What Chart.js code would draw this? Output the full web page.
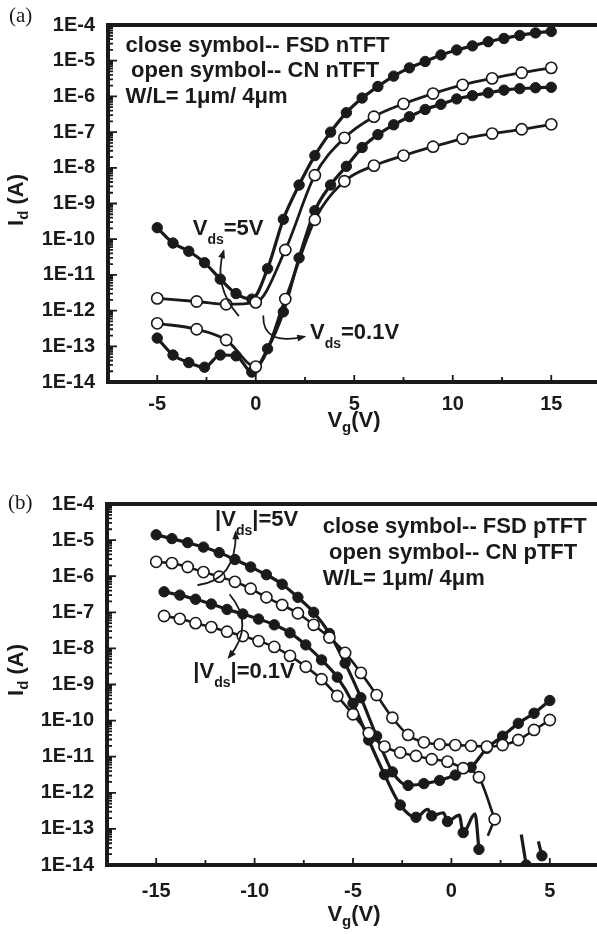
<!DOCTYPE html>
<html>
<head>
<meta charset="utf-8">
<title>FSD / CN TFT transfer curves</title>
<script src="https://cdn.jsdelivr.net/npm/chart.js@4.4.1/dist/chart.umd.min.js"></script>
<style>
  html, body { margin: 0; padding: 0; background: #fff; }
  body { width: 597px; height: 934px; position: relative; overflow: hidden; }
  .panel { position: absolute; left: 0; width: 597px; height: 467px; overflow: hidden; }
  .panel canvas { display: block; }
</style>
</head>
<body>
<div class="panel" style="top:0"><canvas id="chartA" width="612" height="467"></canvas></div>
<div class="panel" style="top:467px"><canvas id="chartB" width="612" height="467"></canvas></div>
<script>
const INK = "#1a1a1a";
const SANS = '"Liberation Sans", Arial, Helvetica, sans-serif';

// shared log axis
const yTicks = [1e-14, 1e-13, 1e-12, 1e-11, 1e-10, 1e-9, 1e-8, 1e-7, 1e-6, 1e-5, 1e-4];
const yTickLabels = ["1E-14", "1E-13", "1E-12", "1E-11", "1E-10", "1E-9", "1E-8", "1E-7", "1E-6", "1E-5", "1E-4"];

// (a) nTFT
const xTicksA = [-5, 0, 5, 10, 15];
const xMinorA = [-2.5, 2.5, 7.5, 12.5];
const vgA = [-5, -4.2, -3.4, -2.6, -1.8, -1.0, -0.2, 0.6, 1.4, 2.2, 3.0, 3.8, 4.6, 5.4, 6.2, 7.0, 7.8, 8.6, 9.4, 10.2, 11.0, 11.8, 12.6, 13.4, 14.2, 15.0];
const idA_fsd5 = [2.1e-10, 7.8e-11, 4.6e-11, 2.2e-11, 7.6e-12, 3.0e-12, 2.1e-12, 1.5e-11, 3.6e-10, 3.3e-9, 2.2e-8, 1.0e-7, 3.5e-7, 9.0e-7, 1.9e-6, 3.7e-6, 6.3e-6, 9.5e-6, 1.45e-5, 2.0e-5, 2.6e-5, 3.4e-5, 4.2e-5, 5.1e-5, 6.0e-5, 6.6e-5];
const idA_fsd01 = [1.7e-13, 5.7e-14, 3.5e-14, 2.6e-14, 5.7e-14, 5.4e-14, 1.9e-14, 8.5e-14, 9.2e-13, 3.0e-11, 6.3e-10, 3.3e-9, 1.1e-8, 3.7e-8, 8.5e-8, 1.6e-7, 2.7e-7, 4.3e-7, 6.0e-7, 8.5e-7, 1.05e-6, 1.26e-6, 1.5e-6, 1.65e-6, 1.75e-6, 1.8e-6];
const vgA_cn = [-5, -3, -1.5, 0, 1.5, 3, 4.5, 6, 7.5, 9, 10.5, 12, 13.5, 15];
const idA_cn5 = [2.2e-12, 1.8e-12, 1.5e-12, 1.7e-12, 5.0e-11, 6.2e-9, 6.9e-8, 2.7e-7, 6.2e-7, 1.2e-6, 2.1e-6, 3.2e-6, 4.6e-6, 6.3e-6];
const idA_cn01 = [4.4e-13, 3.0e-13, 1.5e-13, 2.7e-14, 2.1e-12, 3.5e-10, 4.2e-9, 1.15e-8, 2.2e-8, 3.9e-8, 6.5e-8, 9.1e-8, 1.2e-7, 1.65e-7];

// (b) pTFT
const xTicksB = [-15, -10, -5, 0, 5];
const xMinorB = [-12.5, -7.5, -2.5, 2.5];
const vgB = [-15, -14.2, -13.4, -12.6, -11.8, -11.0, -10.2, -9.4, -8.6, -7.8, -7.0, -6.2, -5.4, -4.6, -3.8, -3.0, -2.2, -1.4, -0.6, 0.2, 1.0, 1.8, 2.6, 3.4, 4.2, 5.0];
const idB_fsd5 = [1.4e-5, 1.1e-5, 8.5e-6, 6.4e-6, 4.5e-6, 2.9e-6, 1.8e-6, 1.1e-6, 6.0e-7, 2.6e-7, 1.0e-7, 2.6e-8, 3.9e-9, 4.3e-10, 3.7e-11, 3.8e-12, 1.6e-12, 1.8e-12, 2.2e-12, 3.1e-12, 5.1e-12, 1.7e-11, 3.7e-11, 8.4e-11, 1.6e-10, 3.6e-10];
const idB_cn5 = [2.5e-6, 2.3e-6, 1.8e-6, 1.3e-6, 9.7e-7, 7.0e-7, 4.5e-7, 2.6e-7, 1.6e-7, 9.4e-8, 4.5e-8, 2.0e-8, 7.5e-9, 2.1e-9, 5.1e-10, 1.2e-10, 4.0e-11, 2.5e-11, 2.2e-11, 2.1e-11, 2.0e-11, 1.9e-11, 2.1e-11, 2.9e-11, 5.5e-11, 1.04e-10];
const vgB2 = [-14.6, -13.8, -13.0, -12.2, -11.4, -10.6, -9.8, -9.0, -8.2, -7.4, -6.6, -5.8, -5.0, -4.2, -3.4, -2.6, -1.8, -1.0, -0.2, 0.6, 1.4, 2.2, 3.0, 3.8, 4.6];
const idB_fsd01 = [3.7e-7, 3.0e-7, 2.3e-7, 1.7e-7, 1.2e-7, 9.0e-8, 6.5e-8, 4.5e-8, 2.7e-8, 1.25e-8, 4.8e-9, 1.6e-9, 3.0e-10, 2.9e-11, 3.2e-12, 4.6e-13, 2.1e-13, 2.3e-13, 1.6e-13, 7.9e-14, 2.7e-14, null, null, 1.0e-14, 1.8e-14];
const idB_cn01 = [7.9e-8, 6.6e-8, 5.0e-8, 3.9e-8, 2.9e-8, 2.2e-8, 1.6e-8, 1.1e-8, 6.2e-9, 3.1e-9, 1.4e-9, 4.8e-10, 1.5e-10, 4.5e-11, 1.9e-11, 1.3e-11, 1.05e-11, 8.5e-12, 7.3e-12, 4.8e-12, 2.7e-12, 1.85e-13, null, null, null];
// unmarked readings on the noisy FSD 0.1V curve, and the short CN tail
const vgB_fsd01Extra = [-1.2, -0.4, 0.4, 1.2, 3.55, 4.1, 4.42];
const idB_fsd01Extra = [3.5e-13, 2.8e-13, 2.4e-13, 2.6e-13, 7.0e-14, null, 4.5e-14];
const vgB_cn01Tail = [2.2, 1.85];
const idB_cn01Tail = [1.85e-13, 6.5e-14];

function xy(xs, ys) {
  return xs.map((x, i) => ({ x: x, y: ys[i] }));
}
function merged(xs1, ys1, xs2, ys2) {
  return xy(xs1, ys1).concat(xy(xs2, ys2)).sort((a, b) => a.x - b.x);
}

function closedSet(data, w) {
  return {
    data: data, borderColor: INK, borderWidth: w, pointRadius: 5.2,
    pointBackgroundColor: INK, pointBorderColor: INK, pointBorderWidth: 1,
    cubicInterpolationMode: "monotone", order: 1
  };
}
function openSet(data, w) {
  return {
    data: data, borderColor: INK, borderWidth: w, pointRadius: 5.6,
    pointBackgroundColor: "#fff", pointBorderColor: INK, pointBorderWidth: 1.6,
    cubicInterpolationMode: "monotone", order: 0
  };
}
function lineOnly(data, w, order) {
  return { data: data, borderColor: INK, borderWidth: w, pointRadius: 0, cubicInterpolationMode: "monotone", order: order };
}
function marksOnly(data) {
  return {
    data: data, showLine: false, pointRadius: 5.2, pointBackgroundColor: INK,
    pointBorderColor: INK, pointBorderWidth: 1, order: 1
  };
}

function richWidth(ctx, parts, size, subSize) {
  let w = 0;
  parts.forEach(p => {
    ctx.font = "bold " + (p[1] ? subSize : size) + "px " + SANS;
    w += ctx.measureText(p[0]).width;
  });
  return w;
}
function richText(ctx, parts, px, py, size, subSize, drop) {
  let cx = px;
  parts.forEach(p => {
    ctx.font = "bold " + (p[1] ? subSize : size) + "px " + SANS;
    ctx.fillText(p[0], cx, p[1] ? py + drop : py);
    cx += ctx.measureText(p[0]).width;
  });
}

function arrow(ctx, s, c, e) {
  ctx.lineWidth = 1.8;
  ctx.beginPath();
  ctx.moveTo(s[0], s[1]);
  ctx.quadraticCurveTo(c[0], c[1], e[0], e[1]);
  ctx.stroke();
  const dx = e[0] - c[0], dy = e[1] - c[1];
  const len = Math.hypot(dx, dy) || 1;
  const ux = dx / len, uy = dy / len;
  ctx.beginPath();
  ctx.moveTo(e[0] + ux * 3, e[1] + uy * 3);
  ctx.lineTo(e[0] - ux * 6 - uy * 3.5, e[1] - uy * 6 + ux * 3.5);
  ctx.lineTo(e[0] - ux * 6 + uy * 3.5, e[1] - uy * 6 - ux * 3.5);
  ctx.closePath();
  ctx.fill();
}

function makeDecor(cfg) {
  return {
    id: "decor",
    afterDatasetsDraw(chart) {
      const ctx = chart.ctx, a = chart.chartArea;
      const xs = chart.scales.x, ys = chart.scales.y;
      const P = (vx, ly) => [xs.getPixelForValue(vx), ys.getPixelForValue(Math.pow(10, ly))];
      ctx.save();
      ctx.fillStyle = INK;
      ctx.strokeStyle = INK;
      ctx.lineCap = "butt";

      // inward ticks
      ctx.lineWidth = 1.8;
      ctx.beginPath();
      cfg.xMajor.forEach(v => {
        const px = xs.getPixelForValue(v);
        ctx.moveTo(px, a.bottom); ctx.lineTo(px, a.bottom - 7);
      });
      cfg.xMinor.forEach(v => {
        const px = xs.getPixelForValue(v);
        ctx.moveTo(px, a.bottom); ctx.lineTo(px, a.bottom - 5);
      });
      for (let e = -14; e <= -4; e++) {
        const py = ys.getPixelForValue(Math.pow(10, e));
        ctx.moveTo(a.left, py); ctx.lineTo(a.left + 9, py);
        if (e < -4) {
          for (let m = 2; m <= 9; m++) {
            const pm = ys.getPixelForValue(m * Math.pow(10, e));
            ctx.moveTo(a.left, pm); ctx.lineTo(a.left + 5, pm);
          }
        }
      }
      ctx.stroke();

      // frame, drawn side by side
      ctx.lineWidth = 4;
      ctx.lineCap = "square";
      ctx.beginPath();
      ctx.moveTo(a.left, a.bottom); ctx.lineTo(a.left, a.top);
      ctx.lineTo(a.right, a.top); ctx.lineTo(a.right, a.bottom);
      ctx.lineTo(a.left, a.bottom);
      ctx.stroke();

      // annotations
      ctx.textAlign = "left";
      ctx.textBaseline = "alphabetic";
      cfg.texts.forEach(t => {
        const p = P(t.at[0], t.at[1]);
        richText(ctx, t.parts, p[0], p[1], 22, 14, 9);
      });
      cfg.arrows.forEach(ar => arrow(ctx, P(ar[0][0], ar[0][1]), P(ar[1][0], ar[1][1]), P(ar[2][0], ar[2][1])));

      // axis titles
      const xt = [["V"], ["g", true], ["(V)"]];
      const wx = richWidth(ctx, xt, 22, 15);
      richText(ctx, xt, cfg.xTitle[0] - wx / 2, cfg.xTitle[1], 22, 15, 5);
      const yt = [["I"], ["d", true], [" (A)"]];
      const wy = richWidth(ctx, yt, 22, 15);
      ctx.save();
      ctx.translate(cfg.yTitle[0], cfg.yTitle[1]);
      ctx.rotate(-Math.PI / 2);
      richText(ctx, yt, -wy / 2, 0, 22, 15, 5);
      ctx.restore();

      // panel tag
      ctx.font = '21px "Liberation Serif", "Times New Roman", serif';
      ctx.fillText(cfg.tag[0], cfg.tag[1], cfg.tag[2]);
      ctx.restore();
    }
  };
}

function makePanel(id, p) {
  new Chart(document.getElementById(id), {
    type: "line",
    data: { datasets: p.datasets },
    options: {
      responsive: false,
      devicePixelRatio: 1,
      animation: false,
      events: [],
      layout: { padding: { top: p.top, right: 612 - p.right, left: 0, bottom: 0 } },
      plugins: { legend: { display: false }, tooltip: { enabled: false } },
      scales: {
        x: {
          type: "linear", min: p.xMin, max: p.xMax,
          grid: { display: false, drawTicks: false }, border: { display: false },
          afterBuildTicks: s => { s.ticks = p.xTicks.map(v => ({ value: v })); },
          afterFit: s => { s.height = 467 - p.bottom; },
          ticks: {
            autoSkip: false, maxRotation: 0, padding: p.xPad, color: INK,
            font: { size: 20, weight: "bold", family: SANS },
            callback: v => String(v)
          }
        },
        y: {
          type: "logarithmic", min: 1e-14, max: 1e-4,
          grid: { display: false, drawTicks: false }, border: { display: false },
          afterBuildTicks: s => { s.ticks = yTicks.map(v => ({ value: v })); },
          afterFit: s => { s.width = p.left; },
          ticks: {
            autoSkip: false, padding: 13, color: INK,
            font: { size: 20, weight: "bold", family: SANS },
            callback: (v, i) => yTickLabels[i]
          }
        }
      }
    },
    plugins: [makeDecor(p.decor)]
  });
}

Chart.defaults.font.family = SANS;

makePanel("chartA", {
  top: 17.5, bottom: 382, left: 108, right: 600.5, xMin: -7.5, xMax: 17.5, xTicks: xTicksA, xPad: 10,
  datasets: [
    closedSet(xy(vgA, idA_fsd5), 3.2),
    closedSet(xy(vgA, idA_fsd01), 3.2),
    openSet(xy(vgA_cn, idA_cn5), 2.8),
    openSet(xy(vgA_cn, idA_cn01), 2.8)
  ],
  decor: {
    xMajor: xTicksA, xMinor: xMinorA,
    texts: [
      { at: [-6.61, -4.754], parts: [["close symbol-- FSD nTFT"]] },
      { at: [-6.33, -5.468], parts: [["open symbol-- CN nTFT"]] },
      { at: [-6.61, -6.181], parts: [["W/L= 1\u03bcm/ 4\u03bcm"]] },
      { at: [-3.2, -9.885], parts: [["V"], ["ds", true], ["=5V"]] },
      { at: [2.754, -12.801], parts: [["V"], ["ds", true], ["=0.1V"]] }
    ],
    arrows: [
      [[-0.886, -12.134], [-2.16, -11.321], [-1.647, -10.359]],
      [[0.383, -12.162], [0.353, -12.971], [2.414, -12.738]]
    ],
    xTitle: [354, 427], yTitle: [22.5, 200], tag: ["(a)", 9, 22]
  }
});

makePanel("chartB", {
  top: 37, bottom: 398, left: 107, right: 599, xMin: -17.5, xMax: 7.5, xTicks: xTicksB, xPad: 14,
  datasets: [
    closedSet(xy(vgB, idB_fsd5), 3.2),
    lineOnly(merged(vgB2, idB_fsd01, vgB_fsd01Extra, idB_fsd01Extra), 3.2, 1),
    marksOnly(xy(vgB2, idB_fsd01)),
    openSet(xy(vgB, idB_cn5), 2.6),
    openSet(xy(vgB2, idB_cn01), 2.6),
    lineOnly(xy(vgB_cn01Tail, idB_cn01Tail), 2.6, 0)
  ],
  decor: {
    xMajor: xTicksB, xMinor: xMinorB,
    texts: [
      { at: [-6.539, -4.803], parts: [["close symbol-- FSD pTFT"]] },
      { at: [-6.214, -5.524], parts: [["open symbol-- CN pTFT"]] },
      { at: [-6.539, -6.244], parts: [["W/L= 1\u03bcm/ 4\u03bcm"]] },
      { at: [-12.009, -4.596], parts: [["|V"], ["ds", true], ["|=5V"]] },
      { at: [-13.113, -8.828], parts: [["|V"], ["ds", true], ["|=0.1V"]] }
    ],
    arrows: [
      [[-12.858, -6.244], [-10.942, -6.105], [-10.957, -4.812]],
      [[-11.247, -6.521], [-9.976, -7.352], [-11.282, -8.23]]
    ],
    xTitle: [354, 453.5], yTitle: [22.5, 203], tag: ["(b)", 8, 42]
  }
});
</script>
</body>
</html>
